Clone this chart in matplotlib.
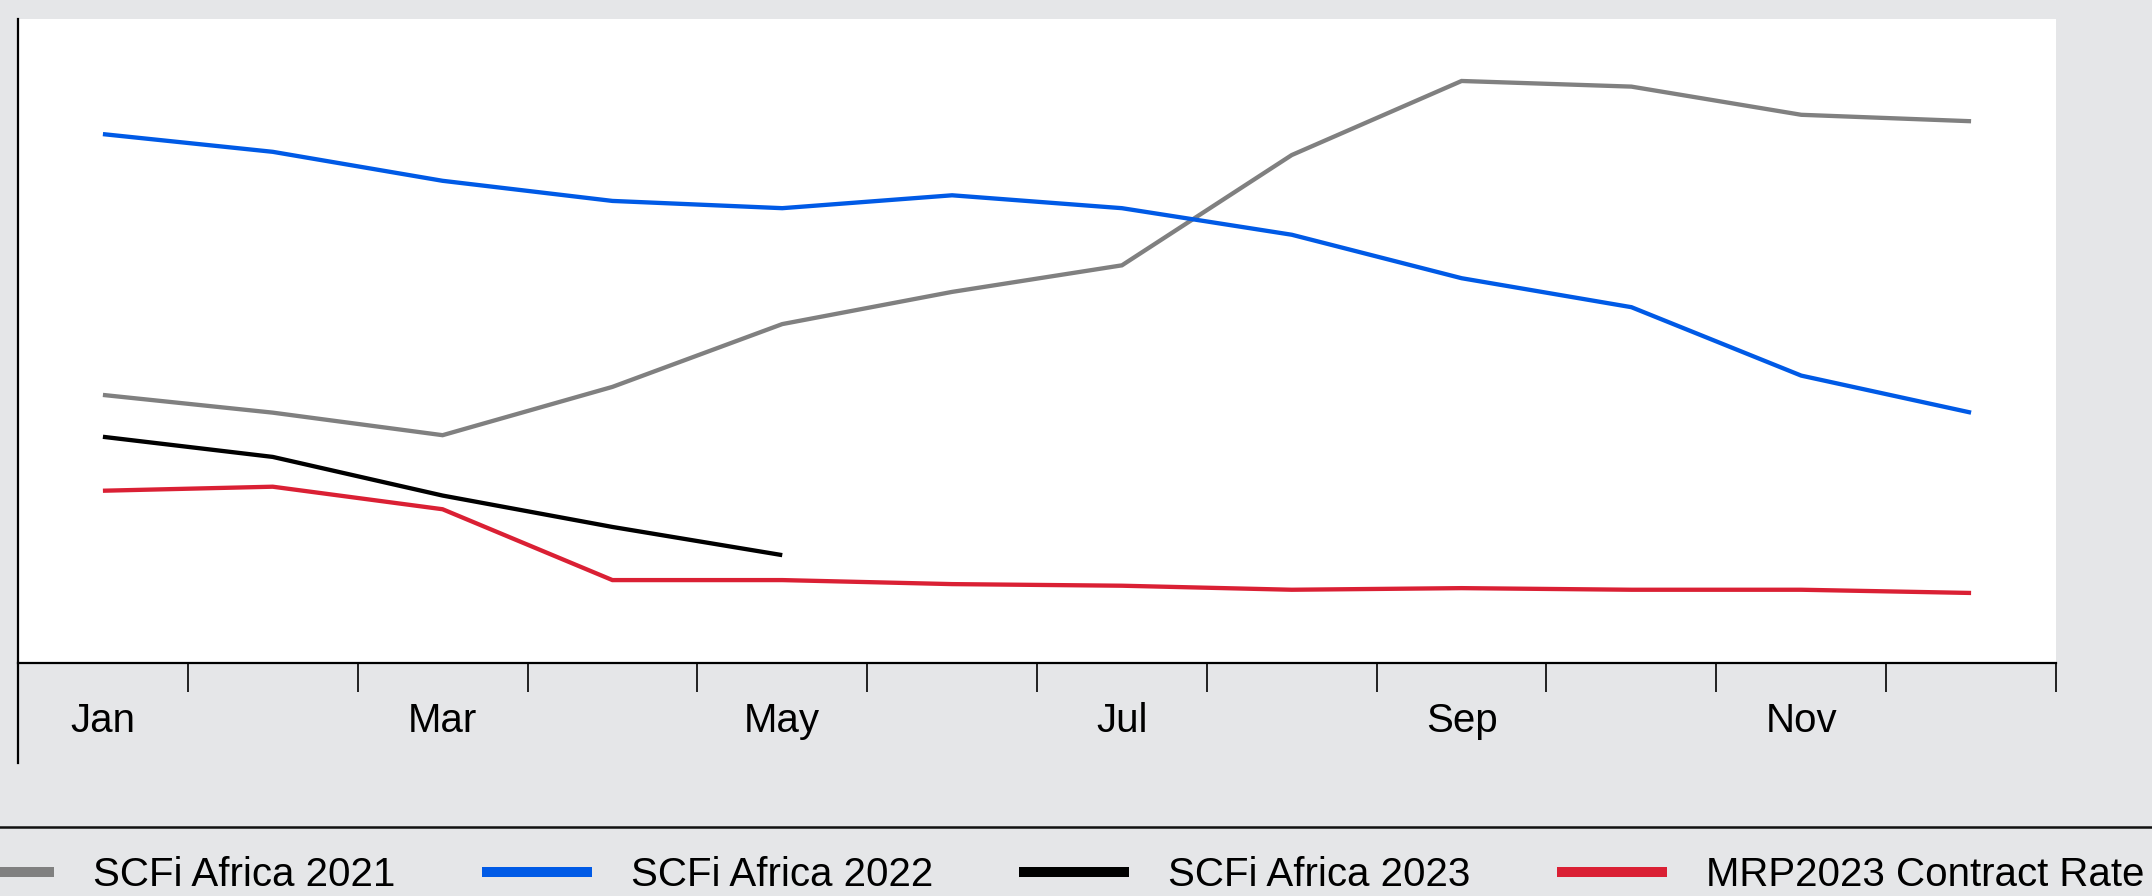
import matplotlib
matplotlib.use("Agg")
import matplotlib.pyplot as plt
from matplotlib.lines import Line2D
import numpy as np

# Monthly series (USD/TEU, approximate)
months = ["Jan", "Feb", "Mar", "Apr", "May", "Jun",
          "Jul", "Aug", "Sep", "Oct", "Nov", "Dec"]
label_months = ["Jan", "Mar", "May", "Jul", "Sep", "Nov"]

scfi_africa_2021 = [3330, 3110, 2830, 3430, 4210, 4610,
                    4940, 6310, 7230, 7160, 6810, 6730]
scfi_africa_2022 = [6570, 6350, 5990, 5740, 5650, 5810,
                    5650, 5320, 4780, 4420, 3570, 3110]
scfi_africa_2023 = [2810, 2560, 2080, 1690, 1340]
mrp2023_contract = [2140, 2190, 1910, 1030, 1030, 980,
                    960, 910, 930, 910, 910, 870]

series_names = ["SCFi Africa 2021", "SCFi Africa 2022",
                "SCFi Africa 2023", "MRP2023 Contract Rate"]
series_colors = ["#808080", "#005ae6", "#000000", "#da2034"]

plt.rcParams["font.family"] = ["Liberation Sans", "DejaVu Sans"]

W, H = 2152, 896
fig = plt.figure(figsize=(W / 100, H / 100), dpi=100, facecolor="#e5e6e8")
ax = fig.add_axes([18 / W, 233 / H, 2038 / W, 644 / H])
ax.set_facecolor("white")

y_max = 8000
all_series = [scfi_africa_2021, scfi_africa_2022, scfi_africa_2023, mrp2023_contract]
for values, name, color in zip(all_series, series_names, series_colors):
    xs = np.arange(len(values)) + 0.5
    ax.plot(xs, values, color=color, lw=3.1, label=name,
            solid_capstyle="butt", solid_joinstyle="miter")

ax.set_xlim(0, 12)
ax.set_ylim(0, y_max)

# month boundaries as tick marks, labels in the middle of every other month
ax.set_xticks(np.arange(13))
ax.set_xticklabels([])
ax.set_xticks([months.index(m) + 0.5 for m in label_months], minor=True)
ax.set_xticklabels(label_months, minor=True)
ax.tick_params(axis="x", which="major", length=20.9, width=1.2,
               color="black", direction="out")
ax.tick_params(axis="x", which="minor", length=0, pad=28, labelsize=29,
               labelcolor="black")
ax.set_yticks([])

for side in ("top", "right"):
    ax.spines[side].set_visible(False)
ax.spines["bottom"].set_linewidth(1.6)
ax.spines["left"].set_linewidth(1.6)
# left axis line runs on below the month labels
ax.spines["left"].set_bounds(-y_max * 100 / 644, y_max)

# rule above the legend
fig.add_artist(Line2D([0, 1], [1 - 827 / H] * 2, transform=fig.transFigure,
                      color="#111111", lw=1.8))

handles, labels = ax.get_legend_handles_labels()
leg = fig.legend(handles, labels, loc="center",
                 bbox_to_anchor=(1044 / W, 21 / H), ncol=4, frameon=False,
                 fontsize=29, handlelength=2.73, handletextpad=0.97,
                 columnspacing=2.14, borderaxespad=0, borderpad=0)
for h in leg.legend_handles:
    h.set_linewidth(7.2)

fig.savefig("out.png", dpi=100, facecolor=fig.get_facecolor())
